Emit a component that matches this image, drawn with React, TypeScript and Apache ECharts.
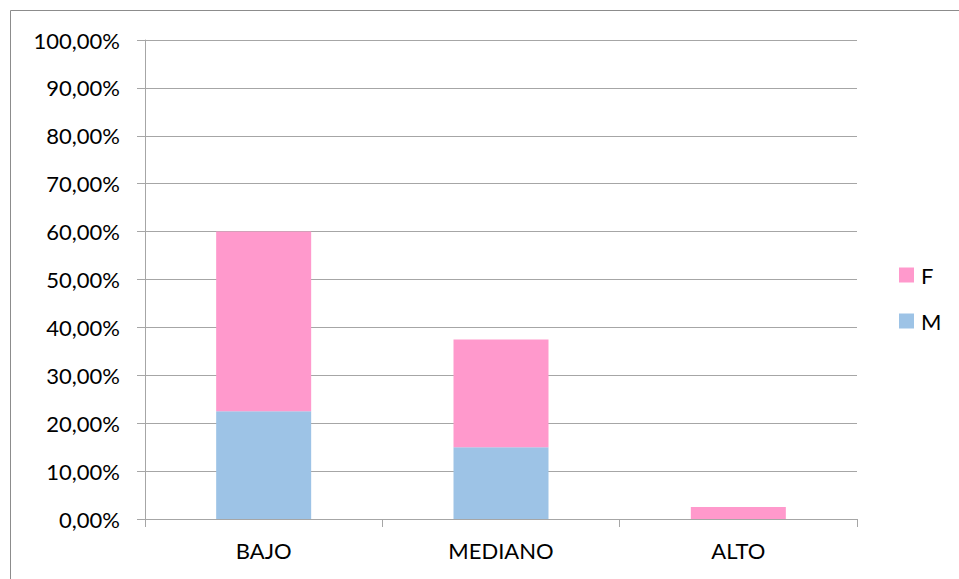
import React, { useEffect, useRef } from "react";
import * as echarts from "echarts";

const categories = ["BAJO", "MEDIANO", "ALTO"];
const seriesM = [22.5, 15, 0];
const seriesF = [37.5, 22.5, 2.5];
const yTicks = { min: 0, max: 100, interval: 10 };

const FONT = "Lato";
const GRID_COLOR = "#a6a6a6";

export default function App() {
  const ref = useRef<HTMLDivElement>(null);

  useEffect(() => {
    if (!ref.current) return;
    const chart = echarts.init(ref.current, null, { renderer: "svg" });
    chart.setOption({
      animation: false,
      backgroundColor: "#ffffff",
      textStyle: { fontFamily: FONT },
      grid: { left: 145, right: 102, top: 40, bottom: 60 },
      graphic: [
        {
          type: "rect",
          shape: { x: 10.5, y: 10.5, width: 1000, height: 1000 },
          style: { fill: "none", stroke: "#8c8c8c", lineWidth: 1 },
          silent: true,
        },
      ],
      legend: {
        data: ["F", "M"],
        orient: "vertical",
        left: 894,
        top: 259,
        itemWidth: 15,
        itemHeight: 15,
        itemGap: 24,
        icon: "rect",
        textStyle: { fontFamily: FONT, fontSize: 22, color: "#000", padding: [0, 0, 0, 2] },
      },
      xAxis: {
        type: "category",
        data: categories,
        axisLine: { lineStyle: { color: GRID_COLOR, width: 1 } },
        axisTick: { show: true, length: 8, lineStyle: { color: GRID_COLOR } },
        axisLabel: { fontFamily: FONT, fontSize: 22, color: "#000", margin: 20 },
      },
      yAxis: {
        type: "value",
        min: yTicks.min,
        max: yTicks.max,
        interval: yTicks.interval,
        axisLine: { show: true, lineStyle: { color: GRID_COLOR, width: 1 } },
        axisTick: { show: true, length: 8, lineStyle: { color: GRID_COLOR } },
        splitLine: { lineStyle: { color: GRID_COLOR, width: 1 } },
        axisLabel: {
          fontFamily: FONT,
          fontSize: 22,
          color: "#000",
          margin: 25,
          formatter: (v: number) => v.toFixed(2).replace(".", ",") + "%",
        },
      },
      series: [
        {
          name: "M",
          type: "bar",
          stack: "total",
          data: seriesM,
          barWidth: 95,
          itemStyle: { color: "#9dc3e6" },
        },
        {
          name: "F",
          type: "bar",
          stack: "total",
          data: seriesF,
          barWidth: 95,
          itemStyle: { color: "#ff99cc" },
        },
      ],
    });
    return () => chart.dispose();
  }, []);

  return (
    <div
      ref={ref}
      style={{ position: "fixed", left: 0, top: 0, width: 959, height: 579 }}
    />
  );
}
